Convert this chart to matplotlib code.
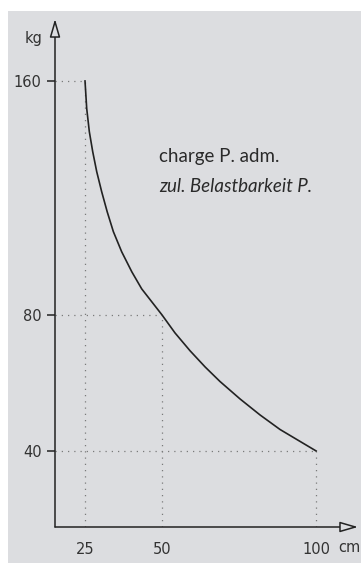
import numpy as np
import matplotlib.pyplot as plt
from matplotlib.patches import Rectangle

# load curve: permissible load P (kg) against span length (cm)
span_cm = [25, 25.55, 26.4, 27.5, 28.8, 30.4, 32.2, 34.2, 36.9, 40.2, 43.4, 50,
           54.2, 59.1, 64.0, 68.8, 75.3, 81.8, 88.3, 94.8, 100]
load_kg = [160, 150.0, 141.7, 134.6, 127.6, 120.7, 113.8, 107.1, 100.4, 93.8, 88.3, 80,
           74.4, 68.9, 64.0, 59.7, 54.6, 50.0, 45.9, 42.6, 40]

x_ticks = [25, 50, 100]
y_ticks = [40, 80, 160]
guide_x = [25, 50, 100]
guide_y = [160, 80, 40]

bg = '#dcdde0'
ink = '#222222'
grey = '#7a7a7a'

W, H = 361, 563
fig = plt.figure(figsize=(W / 100, H / 100), dpi=100)
fig.patch.set_facecolor('white')
fig.patches.append(Rectangle((8 / W, 0), 1, (H - 11) / H, transform=fig.transFigure,
                             facecolor=bg, edgecolor='none', zorder=-5))

ax = fig.add_axes([55 / W, (H - 527) / H, (358 - 55) / W, (527 - 19) / H])
ax.set_facecolor('none')

p = 0.783
ax.set_yscale('function', functions=(lambda v: np.sign(v) * np.abs(v) ** p,
                                     lambda v: np.sign(v) * np.abs(v) ** (1 / p)))
ax.set_xlim(15.26, 113.6)
ax.set_ylim(20.7, 183.0)

# dotted guides from the labelled points to both axes
for gx, gy in zip(guide_x, guide_y):
    ax.plot([15.26, gx], [gy, gy], ls=(0, (1, 4)), lw=0.9, color=grey, zorder=1)
    ax.plot([gx, gx], [20.7, gy], ls=(0, (1, 4)), lw=0.9, color=grey, zorder=1)

ax.plot(span_cm, load_kg, color=ink, lw=1.2, solid_joinstyle='round', zorder=3)

for s in ax.spines.values():
    s.set_visible(False)

# axes drawn as arrows with hollow heads
arrow = dict(arrowstyle='-|>,head_length=1.1,head_width=0.32', fc=bg, ec=ink,
             lw=1.1, shrinkA=0, shrinkB=0)
ax.annotate('', xy=(0, 1), xytext=(0, 0), xycoords='axes fraction', arrowprops=arrow)
ax.annotate('', xy=(1, 0), xytext=(0, 0), xycoords='axes fraction', arrowprops=arrow)

ax.set_yticks(y_ticks)
ax.set_yticklabels([str(v) for v in y_ticks])
ax.set_xticks(x_ticks)
ax.set_xticklabels([str(v) for v in x_ticks])
ax.tick_params(axis='y', length=6, width=1.1, color=ink, pad=3.5, labelsize=10.5, labelcolor='#333333')
ax.tick_params(axis='x', length=0, pad=10.5, labelsize=10.5, labelcolor='#333333')
ax.minorticks_off()

ax.text(-12 / 303, 1 - 19 / 508, 'kg', transform=ax.transAxes, ha='right', va='center',
        fontsize=10.5, color='#333333')
ax.text(1 - 9 / 303, -21 / 508, 'cm', transform=ax.transAxes, ha='center', va='center',
        fontsize=10.5, color='#333333')

ax.text(104 / 303, 1 - 143 / 508, 'charge P. adm.', transform=ax.transAxes,
        ha='left', va='baseline', fontsize=13.5, family='Lato', color='#2a2a2a')
ax.text(104 / 303, 1 - 173 / 508, 'zul. Belastbarkeit P.', transform=ax.transAxes,
        ha='left', va='baseline', fontsize=13.5, family='Lato', style='italic', color='#2a2a2a')

fig.savefig('out.png', dpi=100)
